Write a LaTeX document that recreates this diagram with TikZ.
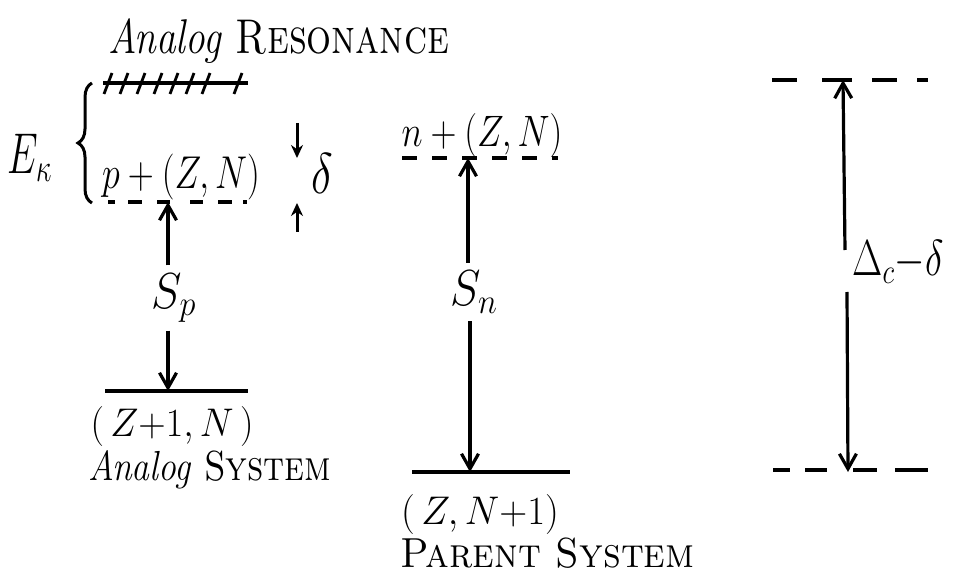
\documentclass[tikz,border=0pt]{standalone}
\usepackage{fix-cm}
\usepackage{graphicx}
\usetikzlibrary{arrows.meta,decorations.pathreplacing}
\newcommand{\hw}[3]{\scalebox{#1}[#2]{#3}}
\begin{document}
\begin{tikzpicture}[x=1pt,y=-1pt,
  lvl/.style={line width=3.6pt},
  dlvlp/.style={line width=3.4pt, dash pattern=on 7pt off 13pt on 14pt off 15pt on 13pt off 20pt on 13pt off 15pt on 14pt off 11pt on 4pt off 20pt},
  dlvlm/.style={line width=3.4pt, dash pattern=on 15pt off 15pt},
  dlvlt/.style={line width=3.4pt, dash pattern=on 25pt off 25pt on 30pt off 20pt on 25pt off 20pt on 11pt off 30pt},
  dlvlb/.style={line width=3.4pt, dash pattern=on 17pt off 15pt on 22pt off 26pt on 24pt off 18pt on 33pt off 30pt},
  arr/.style={line width=3.2pt,-{Straight Barb[length=15pt,width=17pt,line width=3.2pt]}},
  sarr/.style={line width=3pt,-{Stealth[length=13pt,width=12pt]}},
  lab/.style={font=\fontsize{40}{44}\selectfont, inner sep=0pt},
  biglab/.style={font=\fontsize{46}{50}\selectfont, inner sep=0pt},
]
\useasboundingbox (0,0) rectangle (956,585);

% ---------- left: analog system ----------
\node[lab, anchor=base west] (title) at (108,54) {\hw{0.98}{1.22}{\itshape Analog \upshape\textsc{Resonance}}};
\coordinate (hL) at (103,83);
\coordinate (hR) at (248,83);
\draw[lvl] (hL) -- (hR);
\foreach \x in {108,124,141,158,174,190,206,238}
  \draw[line width=2.8pt] (\x-4,94) -- (\x+4,73);

\coordinate (bT) at (92,83);
\coordinate (bB) at (92,203);
\draw[line width=3pt, decorate, decoration={brace,amplitude=14pt}] (bB) -- (bT);
\node[biglab] (Ek) at (30,158) {\hw{0.85}{1.25}{$E_\kappa$}};

\node[lab] (pZN) at (181,177) {\hw{0.9}{1.15}{$p+(Z,N)$}};
\coordinate (pL) at (108,202);
\coordinate (pR) at (248,202);
\draw[dlvlp] (pL) -- (pR);
\coordinate (pA) at (168,202);

\coordinate (d1) at (297,123);
\coordinate (d2) at (297,158);
\coordinate (d3) at (297,232);
\coordinate (d4) at (297,203);
\draw[sarr] (d1) -- (d2);
\draw[sarr] (d3) -- (d4);
\node[biglab] (del) at (322,174) {\hw{1}{1.25}{$\delta$}};

\node[biglab] (Sp) at (174,298) {\hw{1}{1.1}{$S_p$}};
\coordinate (gL) at (105,391);
\coordinate (gR) at (248,391);
\coordinate (gA) at (168,391);
\draw[lvl] (gL) -- (gR);
\draw[arr] (Sp.north -| pA) ++(0,-8) -- (pA);
\draw[arr] (Sp.south -| gA) ++(0,8) -- (gA);
\node[lab] (ZN1) at (172,427) {\hw{0.95}{1}{$(\,Z{+}1,N\,)$}};
\node[lab, anchor=base west] (asys) at (88,480) {\hw{0.89}{1.05}{\itshape Analog \upshape\textsc{System}}};

% ---------- middle: parent system ----------
\node[lab] (nZN) at (482,136) {\hw{0.9}{1.1}{$n+(Z,N)$}};
\coordinate (nL) at (402,158);
\coordinate (nR) at (558,158);
\draw[dlvlm] (nL) -- (nR);
\coordinate (nA) at (468,158);
\node[biglab] (Sn) at (474,292) {\hw{1}{1.1}{$S_n$}};
\coordinate (mL) at (412,472);
\coordinate (mR) at (570,472);
\coordinate (mA) at (470,472);
\draw[lvl] (mL) -- (mR);
\draw[arr] (Sn.north -| nA) ++(0,-8) -- (nA);
\draw[arr] (Sn.south -| mA) ++(0,8) -- (mA);
\node[lab] (ZN2) at (480,514) {\hw{0.97}{1}{$(\,Z,N{+}1)$}};
\node[lab, anchor=base west] (psys) at (400,567) {\hw{0.97}{1.05}{\textsc{Parent System}}};

% ---------- right: Coulomb displacement ----------
\coordinate (tL) at (772,80);
\coordinate (tR) at (928,80);
\draw[dlvlt] (tL) -- (tR);
\coordinate (uL) at (773,470);
\coordinate (uR) at (928,470);
\draw[dlvlb] (uL) -- (uR);
\coordinate (tA) at (843,80);
\coordinate (uA) at (848,472);
\coordinate (r1) at (845,250);
\coordinate (r2) at (847,292);
\draw[arr] (r1) -- (tA);
\draw[arr] (r2) -- (uA);
\node[biglab] (Dc) at (898,262) {\hw{0.85}{1.1}{$\Delta_c{-}\delta$}};
\end{tikzpicture}
\end{document}
